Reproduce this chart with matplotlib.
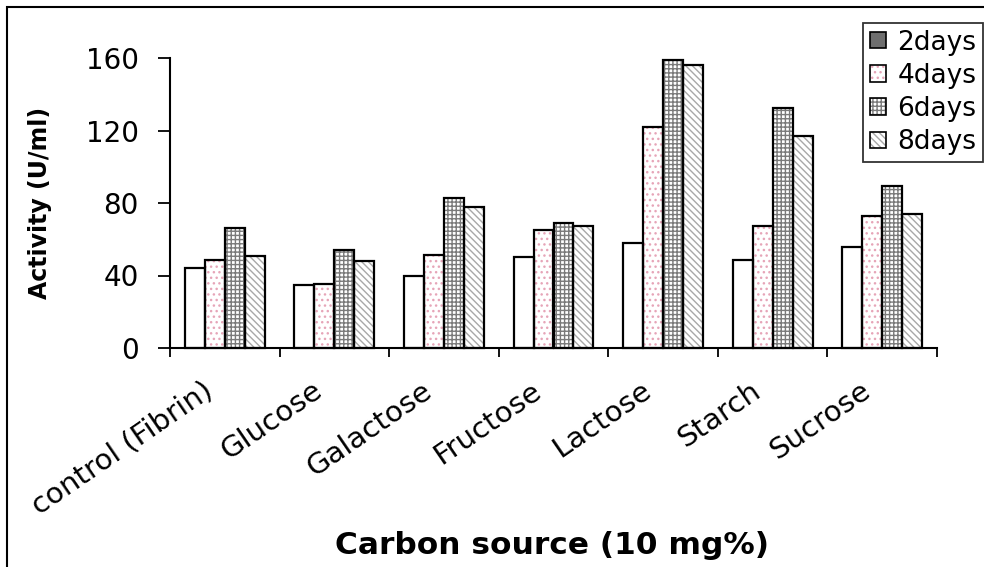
import matplotlib
matplotlib.use("Agg")
import matplotlib.pyplot as plt
import numpy as np
from matplotlib.patches import Patch, Rectangle
from matplotlib.legend_handler import HandlerTuple
from matplotlib.transforms import ScaledTranslation

plt.rcParams['font.family'] = ['DejaVu Sans']
plt.rcParams['hatch.linewidth'] = 1.0

categories = ["control (Fibrin)", "Glucose", "Galactose", "Fructose",
              "Lactose", "Starch", "Sucrose"]
series_names = ["2days", "4days", "6days", "8days"]
days2 = [44, 34.5, 40, 50, 58, 48.5, 56]
days4 = [48.5, 35.5, 51.5, 65, 122, 67.5, 73]
days6 = [66, 54, 83, 69, 159, 132.5, 89.5]
days8 = [50.5, 48, 78, 67.5, 156, 117, 74]
yticks = [0, 40, 80, 120, 160]

series = [days2, days4, days6, days8]
# face colour, hatch pattern, hatch colour for the bars of each series
faces = ["white", "white", "white", "white"]
hatches = [None, "...", "++++", "\\\\\\\\\\"]
hatch_cols = ["black", "#e6a5b8", "#7a7a7a", "#a8a8a8"]
legend_faces = ["#6e6e6e", "white", "white", "white"]

W, H = 984, 567
fig = plt.figure(figsize=(W / 100, H / 100), dpi=100)
ax = fig.add_axes([170 / W, 1 - 348 / H, (937 - 170) / W, (348 - 58) / H])

x = np.arange(len(categories))
bw = 0.1825
for i, vals in enumerate(series):
    pos = x + (i - 1.5) * bw
    if hatches[i]:
        ax.bar(pos, vals, bw, color=faces[i], edgecolor=hatch_cols[i],
               hatch=hatches[i], linewidth=0, clip_on=False, zorder=2)
    else:
        ax.bar(pos, vals, bw, color=faces[i], linewidth=0, clip_on=False, zorder=2)
    ax.bar(pos, vals, bw, fill=False, edgecolor="black", linewidth=1.6,
           clip_on=False, zorder=3)

ax.set_xlim(-0.5, len(categories) - 0.5)
ax.set_ylim(0, 160)
ax.set_yticks(yticks)
ax.tick_params(axis="y", length=8.5, width=1.3, pad=14, labelsize=20, direction="out")

# category labels at centres, tick marks at category boundaries
ax.set_xticks(x)
ax.set_xticks(np.arange(len(categories) + 1) - 0.5, minor=True)
ax.tick_params(axis="x", which="major", length=0, pad=0)
ax.tick_params(axis="x", which="minor", length=6.5, width=1.3, direction="out")
ax.set_xticklabels(categories, rotation=34.5, ha="right", va="center",
                   rotation_mode="anchor", fontsize=21)
offset = ScaledTranslation(-0.15, -0.40, fig.dpi_scale_trans)
for lab in ax.get_xticklabels():
    lab.set_transform(lab.get_transform() + offset)

for s in ["top", "right"]:
    ax.spines[s].set_visible(False)
for s in ["left", "bottom"]:
    ax.spines[s].set_linewidth(1.5)

ax.set_ylabel("Activity (U/ml)", fontsize=17, fontweight="bold", labelpad=24)
fig.text(552 / W, 1 - 545 / H, "Carbon source (10 mg%)", fontsize=22.5,
         fontweight="bold", ha="center", va="center")

# legend handles: hatched fill with a black outline on top
handles = []
for i in range(4):
    fill = Patch(facecolor=legend_faces[i], edgecolor=hatch_cols[i],
                 hatch=hatches[i], linewidth=0)
    outline = Patch(facecolor="none", edgecolor="black", linewidth=1.2)
    handles.append((fill, outline))
leg = fig.legend(handles, series_names, loc="upper left",
                 bbox_to_anchor=(863 / W, 1 - 23 / H),
                 handler_map={tuple: HandlerTuple(ndivide=1)},
                 fontsize=19, frameon=True, fancybox=False,
                 handlelength=0.64, handleheight=0.57, handletextpad=0.42,
                 labelspacing=0.27, borderpad=0.25, borderaxespad=0)
leg.get_frame().set_edgecolor("black")
leg.get_frame().set_linewidth(1.3)

# outer border around the chart area
fig.patches.append(Rectangle((7 / W, -0.1), 1.2, 1.1 - 7 / H, fill=False,
                             edgecolor="black", linewidth=1.5,
                             transform=fig.transFigure, figure=fig))

fig.savefig("out.png", dpi=100)
